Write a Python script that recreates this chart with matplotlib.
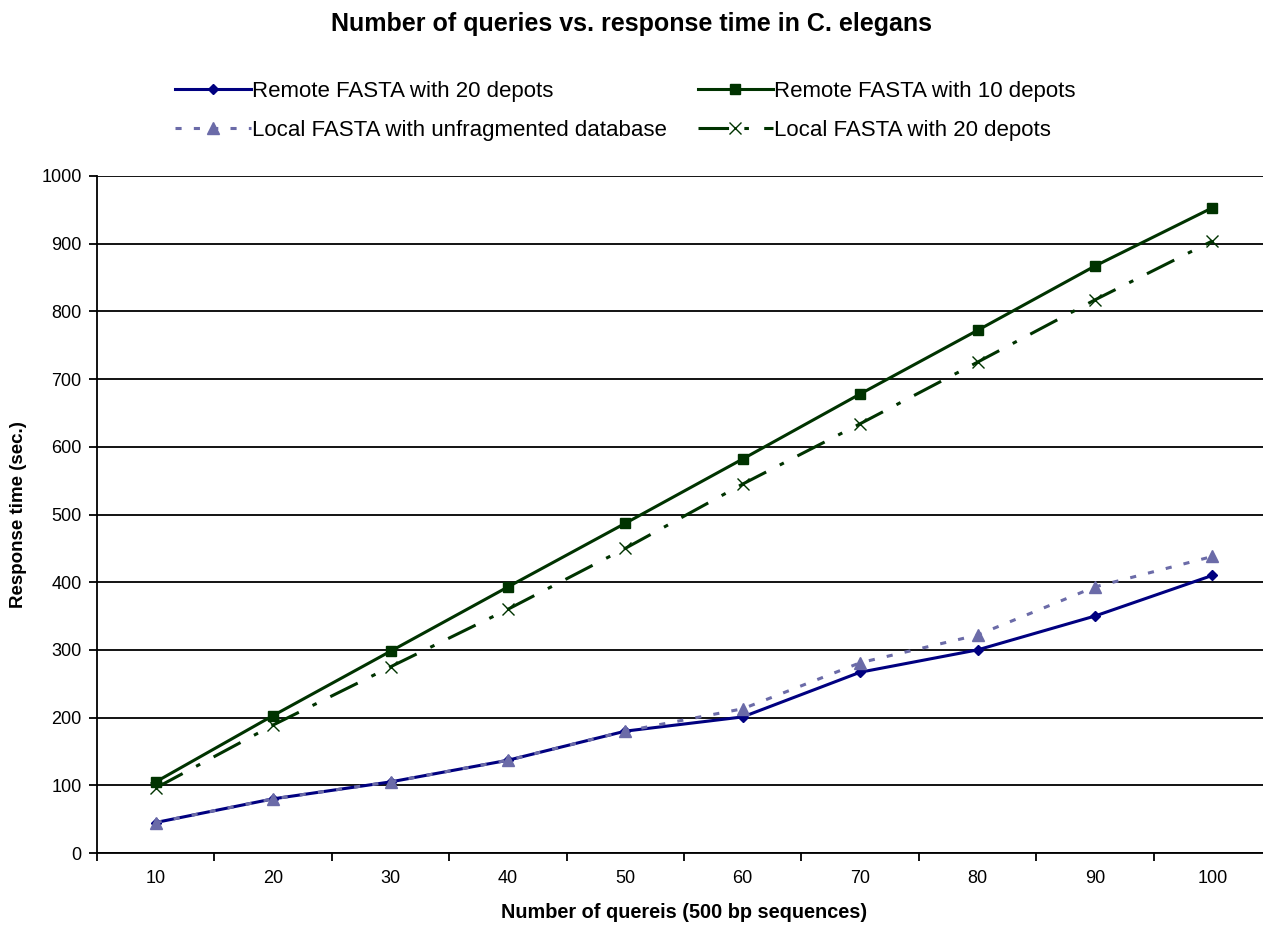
import matplotlib.pyplot as plt
import numpy as np

plt.rcParams['font.family'] = ['Liberation Sans', 'DejaVu Sans']

queries = [10, 20, 30, 40, 50, 60, 70, 80, 90, 100]
remote20 = [45, 80, 105, 137, 180, 201, 267, 300, 350, 410]
remote10 = [105, 203, 298, 393, 487, 582, 678, 772, 867, 953]
local_unfrag = [45, 80, 105, 137, 180, 213, 281, 322, 393, 438]
local20 = [96, 189, 275, 360, 450, 545, 634, 725, 817, 904]

navy = '#000080'
green = '#003300'
lilac = '#6B6BA8'

fig = plt.figure(figsize=(12.63, 9.26), dpi=100)
ax = fig.add_axes([97 / 1263, 73 / 926, 1174 / 1263, 677 / 926])

x = np.arange(len(queries))
l1, = ax.plot(x, remote20, color=navy, lw=2.2, marker='D', ms=5, label='Remote FASTA with 20 depots')
l2, = ax.plot(x, remote10, color=green, lw=2.2, marker='s', ms=7, label='Remote FASTA with 10 depots')
l3, = ax.plot(x, local_unfrag, color=lilac, lw=2.2, ls=(0, (2, 4)), marker='^', ms=8,
              label='Local FASTA with unfragmented database')
l4, = ax.plot(x, local20, color=green, lw=2.2, ls=(0, (10, 5, 1.5, 5)), marker='x', ms=8, mew=1,
              label='Local FASTA with 20 depots')

ax.set_xlim(-0.5, 9.5)
ax.set_ylim(0, 1000)
ax.set_yticks(range(0, 1001, 100))
ax.set_xticks(x)
ax.set_xticklabels([str(q) for q in queries])
ax.set_xticks(np.arange(-0.5, 9.6, 1), minor=True)
ax.tick_params(axis='x', which='major', length=0, pad=12, labelsize=13)
ax.tick_params(axis='x', which='minor', length=6, width=1.3, direction='out')
ax.tick_params(axis='y', length=6, width=1.3, direction='out', labelsize=13, pad=5)
ax.yaxis.grid(True, color='black', lw=1.3)
ax.set_axisbelow(True)
for s in ['top', 'right']:
    ax.spines[s].set_visible(False)
for s in ['left', 'bottom']:
    ax.spines[s].set_linewidth(1.3)

ax.set_xlabel('Number of quereis (500 bp sequences)', fontweight='bold', fontsize=14.3, labelpad=12)
ax.set_ylabel('Response time (sec.)', fontweight='bold', fontsize=13.5, labelpad=10)
fig.suptitle('Number of queries vs. response time in C. elegans', fontweight='bold', fontsize=18,
             x=0.5, y=0.987)

fig.legend(handles=[l1, l3, l2, l4], ncol=2, frameon=False, loc='upper left',
           bbox_to_anchor=(175 / 1263, 1 - 81 / 926), borderpad=0, borderaxespad=0,
           fontsize=16, handlelength=3.4, handletextpad=0.05, columnspacing=1.4,
           labelspacing=0.8)

fig.savefig('out.png', dpi=100)
